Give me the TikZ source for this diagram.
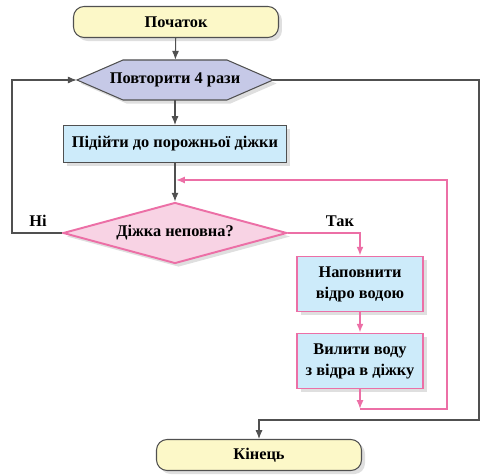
\documentclass[tikz,border=0pt]{standalone}
\usepackage{fontspec}
\setmainfont{Liberation Serif}
\usetikzlibrary{arrows.meta,shapes.geometric,shadows}
\definecolor{termfill}{HTML}{FCF8C8}
\definecolor{loopfill}{HTML}{C6C9E7}
\definecolor{actfill}{HTML}{CDEBFA}
\definecolor{askfill}{HTML}{F8D3E4}
\definecolor{pinkline}{HTML}{EC6FA6}
\definecolor{edgegray}{HTML}{505050}

\begin{document}
\begin{tikzpicture}[x=0.02cm,y=-0.02cm,
		font=\fontsize{9.3}{12}\selectfont\bfseries,
		>={Latex[length=5pt,width=4pt]},
		shade/.style={drop shadow={opacity=0.25,shadow xshift=2pt,shadow yshift=-2pt}},
		term/.style={rectangle, rounded corners=6pt, draw=edgegray, fill=termfill, line width=0.6pt, shade, minimum width=4.1cm, minimum height=0.62cm},
		loopshape/.style={draw=edgegray, fill=loopfill, line width=0.6pt, shade},
		loopbox/.style={rectangle, minimum width=3.92cm, minimum height=0.8cm, inner sep=0pt},
		actbox/.style={rectangle, draw=edgegray, fill=actfill, line width=0.6pt, shade, minimum width=4.46cm, minimum height=0.74cm},
		pinkbox/.style={rectangle, draw=pinkline, fill=actfill, line width=1.1pt, shade, align=center, minimum width=2.52cm, minimum height=1.1cm},
		askbox/.style={diamond, aspect=3.67, draw=pinkline, fill=askfill, line width=1.1pt, shade, minimum width=4.48cm, minimum height=1.22cm, inner sep=0pt},
		wire/.style={draw=edgegray, line width=0.6pt},
		pinkwire/.style={draw=pinkline, line width=0.9pt}]
		\useasboundingbox (0,0) rectangle (486,475);
		\node at (176,22) [term] (start) {Початок};
		\path[loopshape] (77,80) -- (123,60) -- (227,60) -- (273,80) -- (227,100) -- (123,100) -- cycle;
		\node at (175,80) [loopbox] (loop) {Повторити 4 рази};
		\node at (175,144) [actbox] (go) {Підійти до порожньої діжки};
		\node at (175,233) [askbox] (check) {Діжка неповна?};
		\node at (360,284) [pinkbox] (fill) {Наповнити\\відро водою};
		\node at (360,361) [pinkbox] (pour) {Вилити воду\\з відра в діжку};
		\node at (259,455) [term] (end) {Кінець};
		\node at (38,221) (no) {Ні};
		\node at (340,221) (yes) {Так};
		\coordinate (join) at (176,180);
		\coordinate (back) at (360,409);
		\coordinate (backr) at (447,409);
		\coordinate (noleft) at (12,233);
		\coordinate (exitr) at (479,420);
		\draw[->, wire] (start) -- (loop);
		\draw[->, wire] (loop) -- (go);
		\draw[->, wire] (go) -- (check);
		\draw[->, wire] (check.west) -- (noleft) |- (loop.west);
		\draw[->, wire] (loop.east) -| (exitr) -| (end.north);
		\draw[->, pinkwire] (check.east) -| (fill.north);
		\draw[->, pinkwire] (fill) -- (pour);
		\draw[->, pinkwire] (pour) -- (back);
		\draw[->, pinkwire] (back) -- (backr) |- (join);
\end{tikzpicture}
\end{document}
